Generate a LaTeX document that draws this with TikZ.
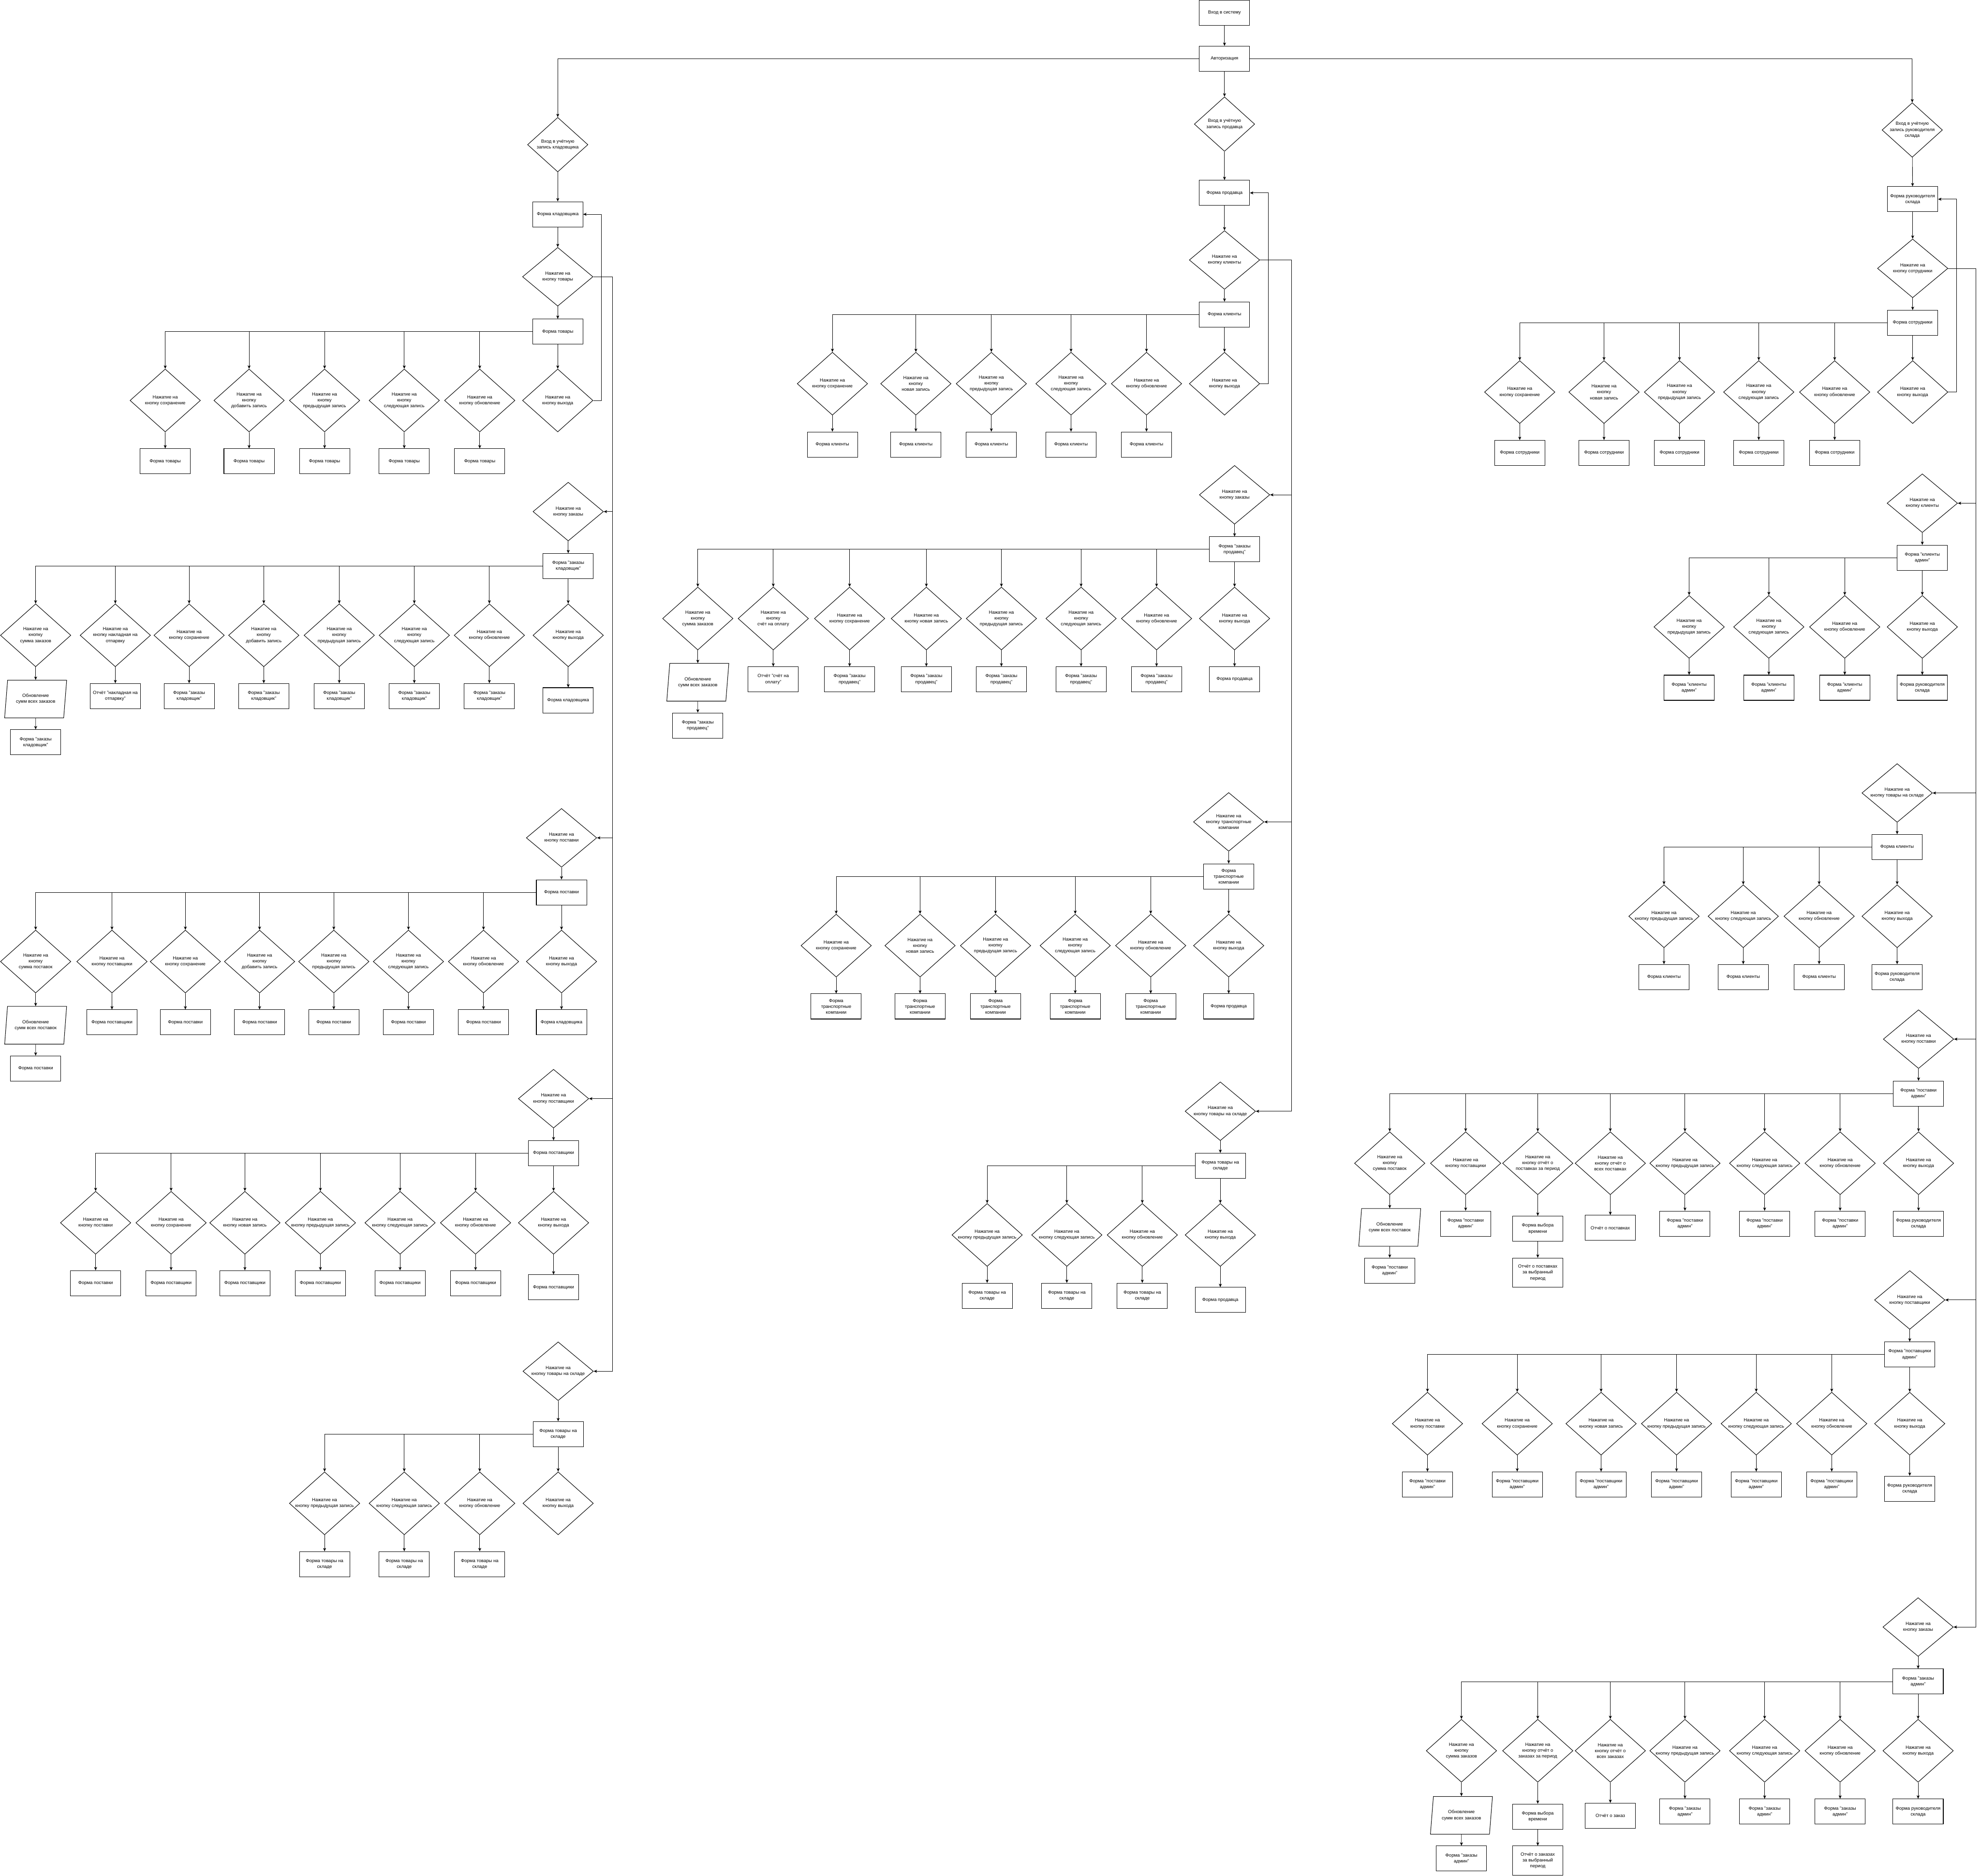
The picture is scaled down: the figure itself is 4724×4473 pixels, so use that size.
\documentclass[tikz,border=0pt]{standalone}
\usepackage{fontspec}
\setmainfont{Liberation Sans}
\usetikzlibrary{shapes.geometric, arrows.meta, positioning, calc}

\begin{document}
\begin{tikzpicture}[
        x=1pt, y=-1pt,
        font=\fontsize{11}{14}\selectfont,
        form_node/.style={
            rectangle,
            draw,
            line width=1.2pt,
            align=center,
            inner sep=1pt,
            minimum width=120pt,
            minimum height=60pt
        },
        btn_node/.style={
            diamond,
            draw,
            line width=1.2pt,
            align=center,
            inner xsep=-30pt,
            inner ysep=0pt,
            minimum width=168pt,
            minimum height=150pt
        },
        head_node/.style={btn_node, minimum height=140pt},
        entry_node/.style={btn_node, minimum width=144pt, minimum height=130pt},
        calc_node/.style={
            trapezium,
            trapezium left angle=79,
            trapezium right angle=101,
            trapezium stretches=true,
            draw,
            line width=1.2pt,
            align=center,
            inner sep=1pt,
            minimum width=148pt,
            minimum height=90pt
        },
        arrow/.style={
            -{Stealth[length=8pt, width=7pt, inset=2pt]},
            line width=1pt
        }
    ]

    \fill[white] (0,0) rectangle (4724,4473);
    \useasboundingbox (0,0) rectangle (4724,4473);

    % Login (Top)
    \node[form_node] (login) at (2920,30) {Вход в систему};
    \node[form_node] (auth) at (2920,140) {Авторизация};
    \draw[arrow] (login) -- (auth);

    % ---------------- Storekeeper (Left) ----------------
    \node[entry_node] (klEnter) at (1330,345) {Вход в учётную\\запись кладовщика};
    \node[form_node] (klForm) at (1330,511) {Форма кладовщика};
    \node[head_node] (klGoods) at (1330,660) {Нажатие на\\кнопку товары};
    \node[form_node] (klGoodsForm) at (1330,791) {Форма товары};
    \draw[arrow] (auth.west) -| (klEnter.north);
    \draw[arrow] (klEnter) -- (klForm);
    \draw[arrow] (klForm) -- (klGoods);
    \draw[arrow] (klGoods) -- (klGoodsForm);

    \foreach \x/\txt [count=\i] in {394/{Нажатие на\\кнопку сохранение}, 594/{Нажатие на\\кнопку\\добавить запись}, 774/{Нажатие на\\кнопку\\предыдущая запись}, 964/{Нажатие на\\кнопку\\следующая запись}, 1144/{Нажатие на\\кнопку обновление}} {
        \node[btn_node] (klG\i) at (\x,955) {\txt};
        \node[form_node] (klGf\i) at (\x,1100) {Форма товары};
        \draw[arrow] (klGoodsForm.west) -| (klG\i.north);
        \draw[arrow] (klG\i) -- (klGf\i);
    }
    \node[btn_node] (klGx) at (1330,955) {Нажатие на\\кнопку выхода};
    \draw[arrow] (klGoodsForm) -- (klGx);
    \draw[arrow] (klGx.east) -- ++(20,0) |- (klForm.east);

    % Storekeeper orders
    \node[head_node] (klOrd) at (1355,1220) {Нажатие на\\кнопку заказы};
    \node[form_node] (klOrdForm) at (1355,1350) {Форма "заказы\\кладовщик"};
    \draw[arrow] (klOrd) -- (klOrdForm);
    \node[btn_node] (klOsum) at (85,1515) {Нажатие на\\кнопку\\сумма заказов};
    \node[calc_node] (klOcalc) at (85,1667) {Обновление\\сумм всех заказов};
    \node[form_node] (klOsumF) at (85,1770) {Форма "заказы\\кладовщик"};
    \draw[arrow] (klOrdForm.west) -| (klOsum.north);
    \draw[arrow] (klOsum) -- (klOcalc);
    \draw[arrow] (klOcalc) -- (klOsumF);
    \foreach \x/\txt/\res [count=\i] in {275/{Нажатие на\\кнопку накладная на\\отпарвку}/{Отчёт "накладная на\\отпарвку"}, 451/{Нажатие на\\кнопку сохранение}/{Форма "заказы\\кладовщик"}, 629/{Нажатие на\\кнопку\\добавить запись}/{Форма "заказы\\кладовщик"}, 809/{Нажатие на\\кнопку\\предыдущая запись}/{Форма "заказы\\кладовщик"}, 988/{Нажатие на\\кнопку\\следующая запись}/{Форма "заказы\\кладовщик"}, 1167/{Нажатие на\\кнопку обновление}/{Форма "заказы\\кладовщик"}} {
        \node[btn_node] (klO\i) at (\x,1515) {\txt};
        \node[form_node] (klOf\i) at (\x,1660) {\res};
        \draw[arrow] (klOrdForm.west) -| (klO\i.north);
        \draw[arrow] (klO\i) -- (klOf\i);
    }
    \node[btn_node] (klOx) at (1355,1515) {Нажатие на\\кнопку выхода};
    \node[form_node] (klOxF) at (1355,1670) {Форма кладовщика};
    \draw[arrow] (klOrdForm) -- (klOx);
    \draw[arrow] (klOx) -- (klOxF);

    % Storekeeper supplies
    \node[head_node] (klSup) at (1339,1998) {Нажатие на\\кнопку поставки};
    \node[form_node] (klSupForm) at (1339,2128) {Форма поставки};
    \draw[arrow] (klSup) -- (klSupForm);
    \node[btn_node] (klSsum) at (85,2293) {Нажатие на\\кнопку\\сумма поставок};
    \node[calc_node] (klScalc) at (85,2445) {Обновление\\сумм всех поставок};
    \node[form_node] (klSsumF) at (85,2548) {Форма поставки};
    \draw[arrow] (klSupForm.west) -| (klSsum.north);
    \draw[arrow] (klSsum) -- (klScalc);
    \draw[arrow] (klScalc) -- (klSsumF);
    \foreach \x/\txt/\res [count=\i] in {267/{Нажатие на\\кнопку поставщики}/{Форма поставщики}, 442/{Нажатие на\\кнопку сохранение}/{Форма поставки}, 619/{Нажатие на\\кнопку\\добавить запись}/{Форма поставки}, 796/{Нажатие на\\кнопку\\предыдущая запись}/{Форма поставки}, 974/{Нажатие на\\кнопку\\следующая запись}/{Форма поставки}, 1153/{Нажатие на\\кнопку обновление}/{Форма поставки}} {
        \node[btn_node] (klS\i) at (\x,2293) {\txt};
        \node[form_node] (klSf\i) at (\x,2438) {\res};
        \draw[arrow] (klSupForm.west) -| (klS\i.north);
        \draw[arrow] (klS\i) -- (klSf\i);
    }
    \node[btn_node] (klSx) at (1339,2293) {Нажатие на\\кнопку выхода};
    \node[form_node] (klSxF) at (1339,2438) {Форма кладовщика};
    \draw[arrow] (klSupForm) -- (klSx);
    \draw[arrow] (klSx) -- (klSxF);

    % Storekeeper suppliers
    \node[head_node] (klVen) at (1320,2620) {Нажатие на\\кнопку поставщики};
    \node[form_node] (klVenForm) at (1320,2750) {Форма поставщики};
    \draw[arrow] (klVen) -- (klVenForm);
    \foreach \x/\txt/\res [count=\i] in {228/{Нажатие на\\кнопку поставки}/{Форма поставки}, 408/{Нажатие на\\кнопку сохранение}/{Форма поставщики}, 584/{Нажатие на\\кнопку новая запись}/{Форма поставщики}, 764/{Нажатие на\\кнопку предыдущая запись}/{Форма поставщики}, 954/{Нажатие на\\кнопку следующая запись}/{Форма поставщики}, 1134/{Нажатие на\\кнопку обновление}/{Форма поставщики}} {
        \node[btn_node] (klV\i) at (\x,2916) {\txt};
        \node[form_node] (klVf\i) at (\x,3060) {\res};
        \draw[arrow] (klVenForm.west) -| (klV\i.north);
        \draw[arrow] (klV\i) -- (klVf\i);
    }
    \node[btn_node] (klVx) at (1320,2916) {Нажатие на\\кнопку выхода};
    \node[form_node] (klVxF) at (1320,3070) {Форма поставщики};
    \draw[arrow] (klVenForm) -- (klVx);
    \draw[arrow] (klVx) -- (klVxF);

    % Storekeeper stock
    \node[head_node] (klStock) at (1331,3270) {Нажатие на\\кнопку товары на складе};
    \node[form_node] (klStockForm) at (1331,3420) {Форма товары на\\складе};
    \draw[arrow] (klStock) -- (klStockForm);
    \foreach \x/\txt [count=\i] in {774/{Нажатие на\\кнопку предыдущая запись}, 964/{Нажатие на\\кнопку следующая запись}, 1144/{Нажатие на\\кнопку обновление}} {
        \node[btn_node] (klT\i) at (\x,3585) {\txt};
        \node[form_node] (klTf\i) at (\x,3730) {Форма товары на\\складе};
        \draw[arrow] (klStockForm.west) -| (klT\i.north);
        \draw[arrow] (klT\i) -- (klTf\i);
    }
    \node[btn_node] (klTx) at (1331,3585) {Нажатие на\\кнопку выхода};
    \draw[arrow] (klStockForm) -- (klTx);

    % Storekeeper button bus
    \coordinate (klBus) at (1461,660);
    \draw (klGoods.east) -- (klBus);
    \foreach \n in {klOrd, klSup, klVen, klStock} {
        \draw[arrow] (klBus) |- (\n.east);
    }

    % ---------------- Seller (Middle) ----------------
    \node[entry_node] (prEnter) at (2920,296) {Вход в учётную\\запись продавца};
    \node[form_node] (prForm) at (2920,460) {Форма продавца};
    \node[head_node] (prCli) at (2920,620) {Нажатие на\\кнопку клиенты};
    \node[form_node] (prCliForm) at (2920,750) {Форма клиенты};
    \draw[arrow] (auth) -- (prEnter);
    \draw[arrow] (prEnter) -- (prForm);
    \draw[arrow] (prForm) -- (prCli);
    \draw[arrow] (prCli) -- (prCliForm);

    \foreach \x/\txt [count=\i] in {1985/{Нажатие на\\кнопку сохранение}, 2184/{Нажатие на\\кнопку\\новая запись}, 2364/{Нажатие на\\кнопку\\предыдущая запись}, 2554/{Нажатие на\\кнопку\\следующая запись}, 2734/{Нажатие на\\кнопку обновление}} {
        \node[btn_node] (prC\i) at (\x,915) {\txt};
        \node[form_node] (prCf\i) at (\x,1060) {Форма клиенты};
        \draw[arrow] (prCliForm.west) -| (prC\i.north);
        \draw[arrow] (prC\i) -- (prCf\i);
    }
    \node[btn_node] (prCx) at (2920,915) {Нажатие на\\кнопку выхода};
    \draw[arrow] (prCliForm) -- (prCx);
    \draw[arrow] (prCx.east) -- ++(20,0) |- (prForm.east);

    % Seller orders
    \node[head_node] (prOrd) at (2944,1180) {Нажатие на\\кнопку заказы};
    \node[form_node] (prOrdForm) at (2944,1310) {Форма "заказы\\продавец"};
    \draw[arrow] (prOrd) -- (prOrdForm);
    \node[btn_node] (prOsum) at (1664,1475) {Нажатие на\\кнопку\\сумма заказов};
    \node[calc_node] (prOcalc) at (1664,1627) {Обновление\\сумм всех заказов};
    \node[form_node] (prOsumF) at (1664,1730) {Форма "заказы\\продавец"};
    \draw[arrow] (prOrdForm.west) -| (prOsum.north);
    \draw[arrow] (prOsum) -- (prOcalc);
    \draw[arrow] (prOcalc) -- (prOsumF);
    \foreach \x/\txt/\res [count=\i] in {1844/{Нажатие на\\кнопку\\счёт на оплату}/{Отчёт "счёт на\\оплату"}, 2026/{Нажатие на\\кнопку сохранение}/{Форма "заказы\\продавец"}, 2209/{Нажатие на\\кнопку новая запись}/{Форма "заказы\\продавец"}, 2388/{Нажатие на\\кнопку\\предыдущая запись}/{Форма "заказы\\продавец"}, 2578/{Нажатие на\\кнопку\\следующая запись}/{Форма "заказы\\продавец"}, 2758/{Нажатие на\\кнопку обновление}/{Форма "заказы\\продавец"}} {
        \node[btn_node] (prO\i) at (\x,1475) {\txt};
        \node[form_node] (prOf\i) at (\x,1620) {\res};
        \draw[arrow] (prOrdForm.west) -| (prO\i.north);
        \draw[arrow] (prO\i) -- (prOf\i);
    }
    \node[btn_node] (prOx) at (2944,1475) {Нажатие на\\кнопку выхода};
    \node[form_node] (prOxF) at (2944,1620) {Форма продавца};
    \draw[arrow] (prOrdForm) -- (prOx);
    \draw[arrow] (prOx) -- (prOxF);

    % Seller transport companies
    \node[head_node] (prTr) at (2930,1960) {Нажатие на\\кнопку транспортные\\компании};
    \node[form_node] (prTrForm) at (2930,2090) {Форма\\транспортные\\компании};
    \draw[arrow] (prTr) -- (prTrForm);
    \foreach \x/\txt [count=\i] in {1994/{Нажатие на\\кнопку сохранение}, 2194/{Нажатие на\\кнопку\\новая запись}, 2374/{Нажатие на\\кнопку\\предыдущая запись}, 2564/{Нажатие на\\кнопку\\следующая запись}, 2744/{Нажатие на\\кнопку обновление}} {
        \node[btn_node] (prR\i) at (\x,2255) {\txt};
        \node[form_node] (prRf\i) at (\x,2400) {Форма\\транспортные\\компании};
        \draw[arrow] (prTrForm.west) -| (prR\i.north);
        \draw[arrow] (prR\i) -- (prRf\i);
    }
    \node[btn_node] (prRx) at (2930,2255) {Нажатие на\\кнопку выхода};
    \node[form_node] (prRxF) at (2930,2400) {Форма продавца};
    \draw[arrow] (prTrForm) -- (prRx);
    \draw[arrow] (prRx) -- (prRxF);

    % Seller stock
    \node[head_node] (prStock) at (2910,2650) {Нажатие на\\кнопку товары на складе};
    \node[form_node] (prStockForm) at (2910,2780) {Форма товары на\\складе};
    \draw[arrow] (prStock) -- (prStockForm);
    \foreach \x/\txt [count=\i] in {2354/{Нажатие на\\кнопку предыдущая запись}, 2544/{Нажатие на\\кнопку следующая запись}, 2724/{Нажатие на\\кнопку обновление}} {
        \node[btn_node] (prT\i) at (\x,2945) {\txt};
        \node[form_node] (prTf\i) at (\x,3090) {Форма товары на\\складе};
        \draw[arrow] (prStockForm.west) -| (prT\i.north);
        \draw[arrow] (prT\i) -- (prTf\i);
    }
    \node[btn_node] (prTx) at (2910,2945) {Нажатие на\\кнопку выхода};
    \node[form_node] (prTxF) at (2910,3100) {Форма продавца};
    \draw[arrow] (prStockForm) -- (prTx);
    \draw[arrow] (prTx) -- (prTxF);

    % Seller button bus
    \coordinate (prBus) at (3080,620);
    \draw (prCli.east) -- (prBus);
    \foreach \n in {prOrd, prTr, prStock} {
        \draw[arrow] (prBus) |- (\n.east);
    }

    % ---------------- Warehouse manager (Right) ----------------
    \node[entry_node] (rkEnter) at (4560,310) {Вход в учётную\\запись руководителя\\склада};
    \node[form_node] (rkForm) at (4561,475) {Форма руководителя\\склада};
    \node[head_node] (rkEmp) at (4561,640) {Нажатие на\\кнопку сотрудники};
    \node[form_node] (rkEmpForm) at (4561,770) {Форма сотрудники};
    \draw[arrow] (auth.east) -| (rkEnter.north);
    \draw[arrow] (rkEnter) -- (rkForm);
    \draw[arrow] (rkForm) -- (rkEmp);
    \draw[arrow] (rkEmp) -- (rkEmpForm);

    \foreach \x/\txt [count=\i] in {3624/{Нажатие на\\кнопку сохранение}, 3825/{Нажатие на\\кнопку\\новая запись}, 4005/{Нажатие на\\кнопку\\предыдущая запись}, 4194/{Нажатие на\\кнопку\\следующая запись}, 4375/{Нажатие на\\кнопку обновление}} {
        \node[btn_node] (rkE\i) at (\x,935) {\txt};
        \node[form_node] (rkEf\i) at (\x,1080) {Форма сотрудники};
        \draw[arrow] (rkEmpForm.west) -| (rkE\i.north);
        \draw[arrow] (rkE\i) -- (rkEf\i);
    }
    \node[btn_node] (rkEx) at (4561,935) {Нажатие на\\кнопку выхода};
    \draw[arrow] (rkEmpForm) -- (rkEx);
    \draw[arrow] (rkEx.east) -- ++(20,0) |- (rkForm.east);

    % Manager clients
    \node[head_node] (rkCli) at (4584,1200) {Нажатие на\\кнопку клиенты};
    \node[form_node] (rkCliForm) at (4584,1330) {Форма "клиенты\\админ"};
    \draw[arrow] (rkCli) -- (rkCliForm);
    \foreach \x/\txt [count=\i] in {4028/{Нажатие на\\кнопку\\предыдущая запись}, 4218/{Нажатие на\\кнопку\\следующая запись}, 4399/{Нажатие на\\кнопку обновление}} {
        \node[btn_node] (rkC\i) at (\x,1495) {\txt};
        \node[form_node] (rkCf\i) at (\x,1640) {Форма "клиенты\\админ"};
        \draw[arrow] (rkCliForm.west) -| (rkC\i.north);
        \draw[arrow] (rkC\i) -- (rkCf\i);
    }
    \node[btn_node] (rkCx) at (4584,1495) {Нажатие на\\кнопку выхода};
    \node[form_node] (rkCxF) at (4584,1640) {Форма руководителя\\склада};
    \draw[arrow] (rkCliForm) -- (rkCx);
    \draw[arrow] (rkCx) -- (rkCxF);

    % Manager stock
    \node[head_node] (rkStock) at (4524,1891) {Нажатие на\\кнопку товары на складе};
    \node[form_node] (rkStockForm) at (4524,2020) {Форма клиенты};
    \draw[arrow] (rkStock) -- (rkStockForm);
    \foreach \x/\txt [count=\i] in {3968/{Нажатие на\\кнопку предыдущая запись}, 4157/{Нажатие на\\кнопку следующая запись}, 4338/{Нажатие на\\кнопку обновление}} {
        \node[btn_node] (rkT\i) at (\x,2185) {\txt};
        \node[form_node] (rkTf\i) at (\x,2330) {Форма клиенты};
        \draw[arrow] (rkStockForm.west) -| (rkT\i.north);
        \draw[arrow] (rkT\i) -- (rkTf\i);
    }
    \node[btn_node] (rkTx) at (4524,2185) {Нажатие на\\кнопку выхода};
    \node[form_node] (rkTxF) at (4524,2330) {Форма руководителя\\склада};
    \draw[arrow] (rkStockForm) -- (rkTx);
    \draw[arrow] (rkTx) -- (rkTxF);

    % Manager supplies
    \node[head_node] (rkSup) at (4575,2478) {Нажатие на\\кнопку поставки};
    \node[form_node] (rkSupForm) at (4575,2608) {Форма "поставки\\админ"};
    \draw[arrow] (rkSup) -- (rkSupForm);
    \node[btn_node] (rkSsum) at (3314,2774) {Нажатие на\\кнопку\\сумма поставок};
    \node[calc_node] (rkScalc) at (3314,2927) {Обновление\\сумм всех поставок};
    \node[form_node] (rkSsumF) at (3314,3030) {Форма "поставки\\админ"};
    \draw[arrow] (rkSupForm.west) -| (rkSsum.north);
    \draw[arrow] (rkSsum) -- (rkScalc);
    \draw[arrow] (rkScalc) -- (rkSsumF);
    \node[btn_node] (rkSper) at (3667,2774) {Нажатие на\\кнопку отчёт о\\поставках за период};
    \node[form_node] (rkSperF) at (3667,2930) {Форма выбора\\времени};
    \node[form_node, minimum height=70pt] (rkSperR) at (3667,3035) {Отчёт о поставках\\за выбранный\\период};
    \draw[arrow] (rkSupForm.west) -| (rkSper.north);
    \draw[arrow] (rkSper) -- (rkSperF);
    \draw[arrow] (rkSperF) -- (rkSperR);
    \node[btn_node] (rkSall) at (3840,2774) {Нажатие на\\кнопку отчёт о\\всех поставках};
    \node[form_node] (rkSallR) at (3840,2928) {Отчёт о поставках};
    \draw[arrow] (rkSupForm.west) -| (rkSall.north);
    \draw[arrow] (rkSall) -- (rkSallR);
    \foreach \x/\txt [count=\i] in {3495/{Нажатие на\\кнопку поставщики}, 4018/{Нажатие на\\кнопку предыдущая запись}, 4208/{Нажатие на\\кнопку следующая запись}, 4388/{Нажатие на\\кнопку обновление}} {
        \node[btn_node] (rkS\i) at (\x,2774) {\txt};
        \node[form_node] (rkSf\i) at (\x,2918) {Форма "поставки\\админ"};
        \draw[arrow] (rkSupForm.west) -| (rkS\i.north);
        \draw[arrow] (rkS\i) -- (rkSf\i);
    }
    \node[btn_node] (rkSx) at (4575,2774) {Нажатие на\\кнопку выхода};
    \node[form_node] (rkSxF) at (4575,2918) {Форма руководителя\\склада};
    \draw[arrow] (rkSupForm) -- (rkSx);
    \draw[arrow] (rkSx) -- (rkSxF);

    % Manager suppliers
    \node[head_node] (rkVen) at (4554,3100) {Нажатие на\\кнопку поставщики};
    \node[form_node] (rkVenForm) at (4554,3230) {Форма "поставщики\\админ"};
    \draw[arrow] (rkVen) -- (rkVenForm);
    \foreach \x/\txt/\res [count=\i] in {3404/{Нажатие на\\кнопку поставки}/{Форма "поставки\\админ"}, 3618/{Нажатие на\\кнопку сохранение}/{Форма "поставщики\\админ"}, 3818/{Нажатие на\\кнопку новая запись}/{Форма "поставщики\\админ"}, 3998/{Нажатие на\\кнопку предыдущая запись}/{Форма "поставщики\\админ"}, 4188/{Нажатие на\\кнопку следующая запись}/{Форма "поставщики\\админ"}, 4368/{Нажатие на\\кнопку обновление}/{Форма "поставщики\\админ"}} {
        \node[btn_node] (rkV\i) at (\x,3395) {\txt};
        \node[form_node] (rkVf\i) at (\x,3540) {\res};
        \draw[arrow] (rkVenForm.west) -| (rkV\i.north);
        \draw[arrow] (rkV\i) -- (rkVf\i);
    }
    \node[btn_node] (rkVx) at (4554,3395) {Нажатие на\\кнопку выхода};
    \node[form_node] (rkVxF) at (4554,3550) {Форма руководителя\\склада};
    \draw[arrow] (rkVenForm) -- (rkVx);
    \draw[arrow] (rkVx) -- (rkVxF);

    % Manager orders
    \node[head_node] (rkOrd) at (4574,3880) {Нажатие на\\кнопку заказы};
    \node[form_node] (rkOrdForm) at (4574,4010) {Форма "заказы\\админ"};
    \draw[arrow] (rkOrd) -- (rkOrdForm);
    \node[btn_node] (rkOsum) at (3485,4175) {Нажатие на\\кнопку\\сумма заказов};
    \node[calc_node] (rkOcalc) at (3485,4329) {Обновление\\сумм всех заказов};
    \node[form_node] (rkOsumF) at (3485,4432) {Форма "заказы\\админ"};
    \draw[arrow] (rkOrdForm.west) -| (rkOsum.north);
    \draw[arrow] (rkOsum) -- (rkOcalc);
    \draw[arrow] (rkOcalc) -- (rkOsumF);
    \node[btn_node] (rkOper) at (3667,4175) {Нажатие на\\кнопку отчёт о\\заказах за период};
    \node[form_node] (rkOperF) at (3667,4332) {Форма выбора\\времени};
    \node[form_node, minimum height=70pt] (rkOperR) at (3667,4437) {Отчёт о заказах\\за выбранный\\период};
    \draw[arrow] (rkOrdForm.west) -| (rkOper.north);
    \draw[arrow] (rkOper) -- (rkOperF);
    \draw[arrow] (rkOperF) -- (rkOperR);
    \node[btn_node] (rkOall) at (3840,4175) {Нажатие на\\кнопку отчёт о\\всех заказах};
    \node[form_node] (rkOallR) at (3840,4330) {Отчёт о заказ};
    \draw[arrow] (rkOrdForm.west) -| (rkOall.north);
    \draw[arrow] (rkOall) -- (rkOallR);
    \foreach \x/\txt [count=\i] in {4018/{Нажатие на\\кнопку предыдущая запись}, 4208/{Нажатие на\\кнопку следующая запись}, 4388/{Нажатие на\\кнопку обновление}} {
        \node[btn_node] (rkO\i) at (\x,4175) {\txt};
        \node[form_node] (rkOf\i) at (\x,4320) {Форма "заказы\\админ"};
        \draw[arrow] (rkOrdForm.west) -| (rkO\i.north);
        \draw[arrow] (rkO\i) -- (rkOf\i);
    }
    \node[btn_node] (rkOx) at (4574,4175) {Нажатие на\\кнопку выхода};
    \node[form_node] (rkOxF) at (4574,4320) {Форма руководителя\\склада};
    \draw[arrow] (rkOrdForm) -- (rkOx);
    \draw[arrow] (rkOx) -- (rkOxF);

    % Manager button bus
    \coordinate (rkBus) at (4712,640);
    \draw (rkEmp.east) -- (rkBus);
    \foreach \n in {rkCli, rkStock, rkSup, rkVen, rkOrd} {
        \draw[arrow] (rkBus) |- (\n.east);
    }

\end{tikzpicture}
\end{document}
